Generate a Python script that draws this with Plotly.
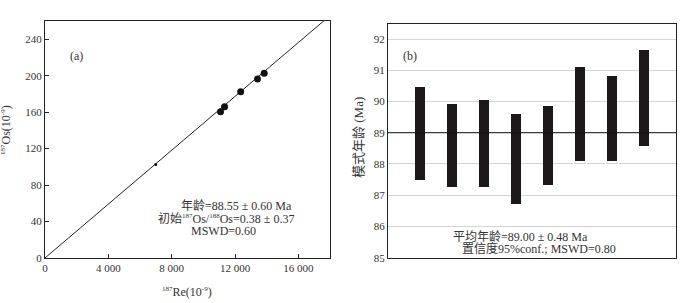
import plotly.graph_objects as go

# ---- data ----
re187 = [11085, 11340, 12356, 13418, 13844]
os187 = [160.4, 165.9, 182.4, 196.4, 202.6]
small_re = [6995]
small_os = [102.6]
iso_slope = 0.014775
iso_x = [0, 18000]

x_ticks = [0, 4000, 8000, 12000, 16000]
x_ticktext = ["0", "4 000", "8 000", "12 000", "16 000"]
y_ticks = [0, 40, 80, 120, 160, 200, 240]

samples = [1, 2, 3, 4, 5, 6, 7, 8]
age_low = [87.49, 87.25, 87.27, 86.73, 87.34, 88.10, 88.11, 88.58]
age_high = [90.45, 89.92, 90.05, 89.61, 89.85, 91.11, 90.82, 91.64]
mean_age = 89.0
b_ticks = [85, 86, 87, 88, 89, 90, 91, 92]

FONT = "Liberation Serif, 'Noto Sans CJK SC', serif"
W, H = 695, 303

def px(x):
    return x / W

def py(y):
    return 1 - y / H

def sup(t):
    return "<sup><span style='font-size:7px'>%s</span></sup>" % t

fig = go.Figure()

# panel (a)
fig.add_trace(go.Scatter(x=iso_x, y=[iso_slope * v for v in iso_x], mode="lines",
                         line=dict(color="#222", width=1), xaxis="x", yaxis="y",
                         showlegend=False, hoverinfo="skip"))
fig.add_trace(go.Scatter(x=re187, y=os187, mode="markers",
                         marker=dict(color="#111", size=7), xaxis="x", yaxis="y",
                         showlegend=False))
fig.add_trace(go.Scatter(x=small_re, y=small_os, mode="markers",
                         marker=dict(color="#111", size=3), xaxis="x", yaxis="y",
                         showlegend=False))

# panel (b)
fig.add_trace(go.Bar(x=samples, y=[h - l for l, h in zip(age_low, age_high)], base=age_low,
                     width=0.32, marker=dict(color="#1c1718", line=dict(width=0)),
                     xaxis="x2", yaxis="y2", showlegend=False))
fig.add_trace(go.Scatter(x=[0, 9], y=[mean_age, mean_age], mode="lines",
                         line=dict(color="#111", width=1), xaxis="x2", yaxis="y2",
                         showlegend=False, hoverinfo="skip"))

axis_common = dict(showline=True, linecolor="#222", linewidth=1, mirror=True,
                   zeroline=False, automargin=False,
                   tickfont=dict(family=FONT, size=11, color="#333"))

fig.update_layout(
    template="none",
    width=W, height=H,
    margin=dict(l=0, r=0, t=0, b=0, pad=0),
    paper_bgcolor="white", plot_bgcolor="white",
    font=dict(family=FONT, color="#222"),
    xaxis=dict(domain=[px(45), px(330)], range=[0, 18000], tickvals=x_ticks,
               ticktext=x_ticktext, ticks="inside", ticklen=4, tickcolor="#222",
               showgrid=False, anchor="y", **axis_common),
    yaxis=dict(domain=[py(258), py(21)], range=[0, 260], tickvals=y_ticks,
               ticks="inside", ticklen=4, tickcolor="#222", showgrid=False,
               anchor="x", **axis_common),
    xaxis2=dict(domain=[px(388), px(676)], range=[0, 9], showticklabels=False,
                ticks="", showgrid=False, anchor="y2", **axis_common),
    yaxis2=dict(domain=[py(257.7), py(24)], range=[85, 92.48], tickvals=b_ticks,
                ticks="", showgrid=True, gridcolor="#d4d4d4", gridwidth=1,
                anchor="x2", **axis_common),
    bargap=0,
)

ann = []
def add(text, x, y, size=12, angle=0, xanchor="center", yanchor="middle"):
    ann.append(dict(text=text, x=px(x), y=py(y), xref="paper", yref="paper",
                    showarrow=False, textangle=angle, xanchor=xanchor, yanchor=yanchor,
                    font=dict(family=FONT, size=size, color="#333")))

add("(a)", 68, 56, xanchor="left")
add("(b)", 401, 56, xanchor="left")
add("年龄=88.55 ± 0.60 Ma", 294, 206, xanchor="right")
add("初始" + sup("187") + "Os/" + sup("188") + "Os=0.38 ± 0.37", 296, 219, xanchor="right")
add("MSWD=0.60", 223, 231)
add(sup("187") + "Re(10" + sup("-9") + ")", 187, 292)
add(sup("187") + "Os(10" + sup("-9") + ")", 6, 130, angle=-90)
add("平均年龄=89.00 ± 0.48 Ma", 451, 237, xanchor="left")
add("置信度95%conf.; MSWD=0.80", 460, 249, xanchor="left")
add("模式年龄 (Ma)", 358, 138, size=13, angle=-90)
fig.update_layout(annotations=ann)

fig.write_html("out.html", config={"displayModeBar": False},
               post_script="document.body.style.margin='0px';")
